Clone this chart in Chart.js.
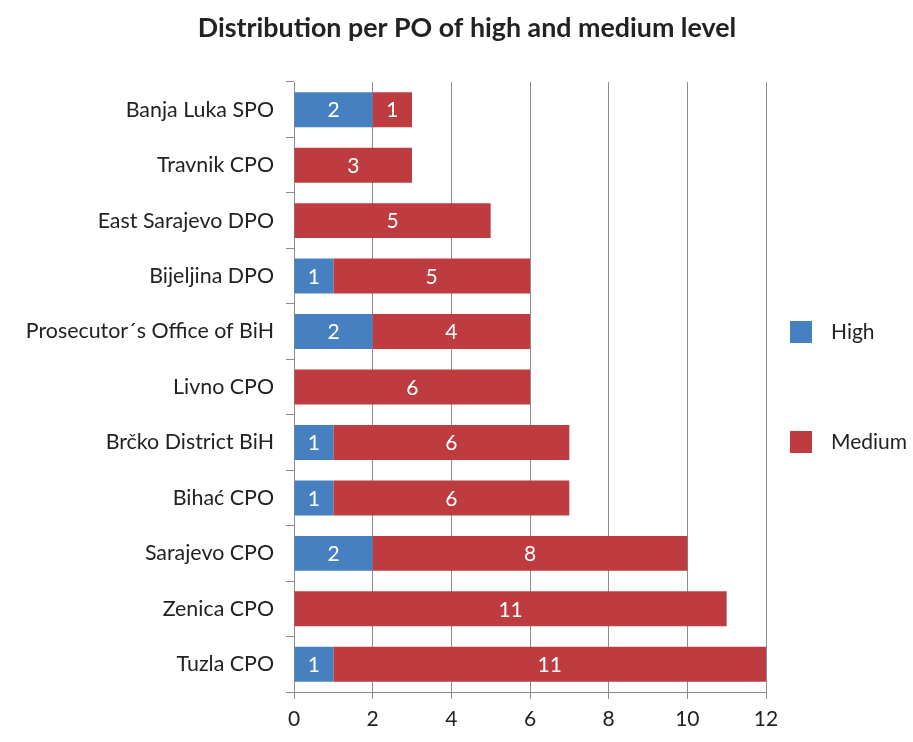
<!DOCTYPE html>
<html>
<head>
<meta charset="utf-8">
<script src="https://cdn.jsdelivr.net/npm/chart.js@4/dist/chart.umd.min.js"></script>
<style>
  html, body { margin: 0; padding: 0; background: #fff; }
  #wrap { width: 913px; height: 742px; }
</style>
</head>
<body>
<div id="wrap"><canvas id="chart"></canvas></div>
<script>
const categories = ["Banja Luka SPO", "Travnik CPO", "East Sarajevo DPO", "Bijeljina DPO",
    "Prosecutor´s Office of BiH", "Livno CPO", "Brčko District BiH", "Bihać CPO",
    "Sarajevo CPO", "Zenica CPO", "Tuzla CPO"];
const highValues = [2, 0, 0, 1, 2, 0, 1, 1, 2, 0, 1];
const mediumValues = [1, 3, 5, 5, 4, 6, 6, 6, 8, 11, 11];
const seriesNames = ["High", "Medium"];
const seriesColors = ["#4680c0", "#be3c40"];
const chartTitle = "Distribution per PO of high and medium level";

const gridGray = "#8c8c8c";
const textColor = "#222";

// white value labels in the middle of every segment
const segmentLabels = {
    id: "segmentLabels",
    afterDatasetsDraw(chart) {
        const ctx = chart.ctx;
        ctx.save();
        ctx.font = "21px Lato";
        ctx.fillStyle = "#fff";
        ctx.textAlign = "center";
        ctx.textBaseline = "middle";
        chart.data.datasets.forEach((ds, i) => {
            chart.getDatasetMeta(i).data.forEach((bar, j) => {
                const v = ds.data[j];
                if (!v) return;
                const p = bar.getProps(["x", "y", "base"], true);
                ctx.fillText(v, (p.x + p.base) / 2, p.y + 1);
            });
        });
        ctx.restore();
    }
};

// title centred on the whole canvas + legend on the right
const sideDecor = {
    id: "sideDecor",
    afterDraw(chart) {
        const ctx = chart.ctx;
        const area = chart.chartArea;
        ctx.save();
        ctx.fillStyle = textColor;
        ctx.textAlign = "center";
        ctx.textBaseline = "middle";
        ctx.font = "bold 26.8px Lato";
        ctx.fillText(chartTitle, 467, 28);

        const rows = [332, 442];
        ctx.font = "21px Lato";
        ctx.textAlign = "left";
        chart.data.datasets.forEach((ds, i) => {
            const y = rows[i];
            ctx.fillStyle = ds.backgroundColor;
            ctx.fillRect(area.right + 24, y - 11, 22, 22);
            ctx.fillStyle = textColor;
            ctx.fillText(ds.label, area.right + 65, y);
        });
        ctx.restore();
    }
};

new Chart(document.getElementById("chart"), {
    type: "bar",
    data: {
        labels: categories,
        datasets: [
            { label: seriesNames[0], data: highValues, backgroundColor: seriesColors[0] },
            { label: seriesNames[1], data: mediumValues, backgroundColor: seriesColors[1] }
        ]
    },
    options: {
        indexAxis: "y",
        responsive: true,
        maintainAspectRatio: false,
        animation: false,
        barPercentage: 0.63,
        categoryPercentage: 1,
        layout: { padding: { top: 82, right: 147, bottom: 0, left: 0 } },
        plugins: {
            legend: { display: false },
            tooltip: { enabled: false },
            title: { display: false }
        },
        scales: {
            x: {
                stacked: true,
                min: 0,
                max: 12,
                ticks: { stepSize: 2, color: textColor, padding: 8, font: { family: "Lato", size: 21 } },
                grid: { color: gridGray, tickLength: 7, tickColor: gridGray },
                border: { color: gridGray },
                afterFit: (axis) => { axis.height = 50; }
            },
            y: {
                stacked: true,
                offset: true,
                ticks: { color: textColor, padding: 12, font: { family: "Lato", size: 21.4 } },
                grid: { offset: true, drawOnChartArea: false, tickLength: 8, tickColor: gridGray },
                border: { color: gridGray },
                afterFit: (axis) => { axis.width = 294; }
            }
        }
    },
    plugins: [segmentLabels, sideDecor]
});
</script>
</body>
</html>
